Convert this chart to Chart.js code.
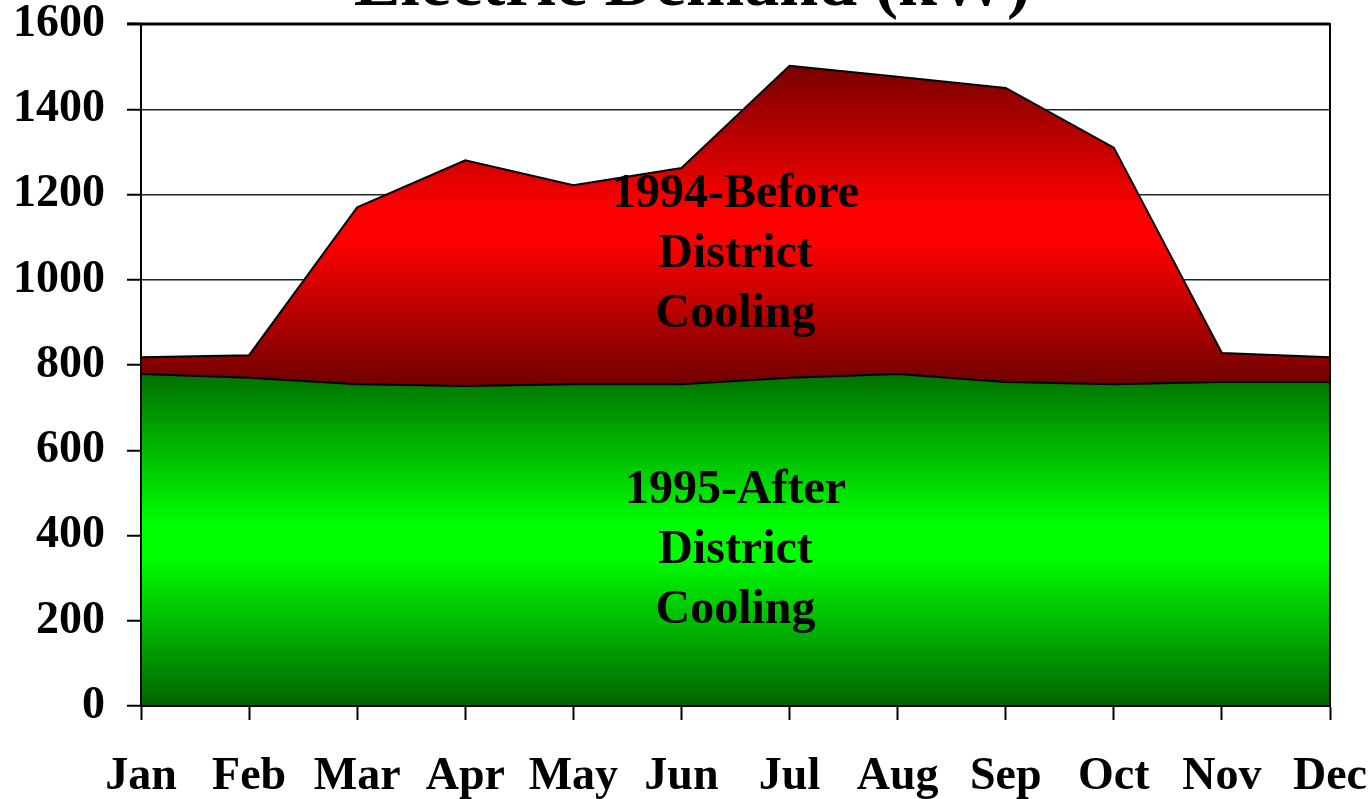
<!DOCTYPE html>
<html>
<head>
<meta charset="utf-8">
<script src="https://cdn.jsdelivr.net/npm/chart.js@4/dist/chart.umd.min.js"></script>
<style>
  html, body { margin: 0; padding: 0; background: #fff; overflow: hidden; }
  #wrap { width: 1368px; height: 799px; }
</style>
</head>
<body>
<div id="wrap"><canvas id="demandChart"></canvas></div>
<script>
const months = ['Jan', 'Feb', 'Mar', 'Apr', 'May', 'Jun', 'Jul', 'Aug', 'Sep', 'Oct', 'Nov', 'Dec'];
const before1994 = [818, 823, 1170, 1280, 1222, 1262, 1502, 1476, 1450, 1310, 828, 818];
const after1995 = [779, 770, 755, 751, 755, 755, 770, 779, 760, 755, 760, 760];
const yTicks = [0, 200, 400, 600, 800, 1000, 1200, 1400, 1600];

const serif = '"Liberation Serif", "Times New Roman", serif';

// vertical gradient dark -> bright -> dark between two pixel rows
function bandGradient(c, top, bottom, dark1, bright, dark2) {
  const g = c.createLinearGradient(0, top, 0, bottom);
  g.addColorStop(0, dark1);
  g.addColorStop(0.45, bright);
  g.addColorStop(0.55, bright);
  g.addColorStop(1, dark2);
  return g;
}

const areaLabels = {
  id: 'areaLabels',
  afterDatasetsDraw(chart) {
    const { ctx, scales } = chart;
    const cx = scales.x.getPixelForValue(5.5);
    ctx.save();
    ctx.fillStyle = '#000';
    ctx.font = 'bold 48px ' + serif;
    ctx.textAlign = 'center';
    ctx.textBaseline = 'middle';
    ['1994-Before', 'District', 'Cooling'].forEach((t, i) => {
      ctx.fillText(t, cx, scales.y.getPixelForValue(1200) + i * 60);
    });
    ['1995-After', 'District', 'Cooling'].forEach((t, i) => {
      ctx.fillText(t, cx, scales.y.getPixelForValue(505) + i * 60);
    });
    ctx.restore();
  }
};

const frame = {
  id: 'frame',
  afterDatasetsDraw(chart) {
    const { ctx, chartArea: a } = chart;
    ctx.save();
    ctx.strokeStyle = '#000';
    ctx.lineWidth = 2;
    ctx.strokeRect(a.left, a.top, a.right - a.left, a.bottom - a.top);
    ctx.lineWidth = 3;
    ctx.beginPath();
    ctx.moveTo(a.left - 14, a.top);
    ctx.lineTo(a.right, a.top);
    ctx.stroke();
    ctx.restore();
  }
};

// title sits mostly above the picture, only its lower part shows
const cutTitle = {
  id: 'cutTitle',
  afterDraw(chart) {
    const { ctx } = chart;
    ctx.save();
    ctx.fillStyle = '#000';
    ctx.font = 'bold 70px ' + serif;
    ctx.textAlign = 'center';
    ctx.textBaseline = 'alphabetic';
    ctx.fillText('Electric Demand (kW)', chart.width / 2 + 8, 5);
    ctx.restore();
  }
};

new Chart(document.getElementById('demandChart'), {
  type: 'line',
  data: {
    labels: months,
    datasets: [
      {
        label: '1995-After District Cooling',
        data: after1995,
        fill: 'origin',
        borderColor: '#000',
        borderWidth: 2,
        pointRadius: 0,
        tension: 0,
        backgroundColor: (ctx) => {
          const { chart } = ctx;
          if (!chart.chartArea) return '#00a000';
          const y = chart.scales.y;
          return bandGradient(chart.ctx, y.getPixelForValue(Math.max(...after1995)),
            y.getPixelForValue(0), '#007000', '#00ff00', '#006400');
        }
      },
      {
        label: '1994-Before District Cooling',
        data: before1994,
        fill: '-1',
        borderColor: '#000',
        borderWidth: 2,
        pointRadius: 0,
        tension: 0,
        backgroundColor: (ctx) => {
          const { chart } = ctx;
          if (!chart.chartArea) return '#c00000';
          const y = chart.scales.y;
          return bandGradient(chart.ctx, y.getPixelForValue(Math.max(...before1994)),
            y.getPixelForValue(Math.min(...after1995)), '#780000', '#ff0000', '#700000');
        }
      }
    ]
  },
  options: {
    responsive: true,
    maintainAspectRatio: false,
    animation: false,
    layout: { padding: 0 },
    plugins: {
      legend: { display: false },
      tooltip: { enabled: false }
    },
    scales: {
      x: {
        type: 'category',
        offset: false,
        afterFit(scale) {
          scale.height = 93;
          scale.paddingLeft = 0;
          scale.paddingRight = 38;
        },
        grid: {
          drawOnChartArea: false,
          drawTicks: true,
          tickLength: 14,
          tickColor: '#000',
          tickWidth: 2
        },
        border: { display: true, color: '#000', width: 2 },
        ticks: {
          color: '#000',
          font: { family: serif, size: 46, weight: 'bold' },
          padding: 30,
          maxRotation: 0,
          autoSkip: false
        }
      },
      y: {
        min: 0,
        max: 1600,
        afterFit(scale) {
          scale.width = 141;
          scale.paddingTop = 24;
          scale.paddingBottom = 0;
        },
        afterBuildTicks(scale) { scale.ticks = yTicks.map(v => ({ value: v })); },
        grid: {
          color: '#222',
          lineWidth: 1.5,
          drawTicks: true,
          tickLength: 14,
          tickColor: '#000',
          tickWidth: 2
        },
        border: { display: true, color: '#000', width: 2 },
        ticks: {
          color: '#000',
          font: { family: serif, size: 46, weight: 'bold' },
          padding: 22,
          callback: (v) => String(v)
        }
      }
    }
  },
  plugins: [areaLabels, frame, cutTitle]
});
</script>
</body>
</html>
